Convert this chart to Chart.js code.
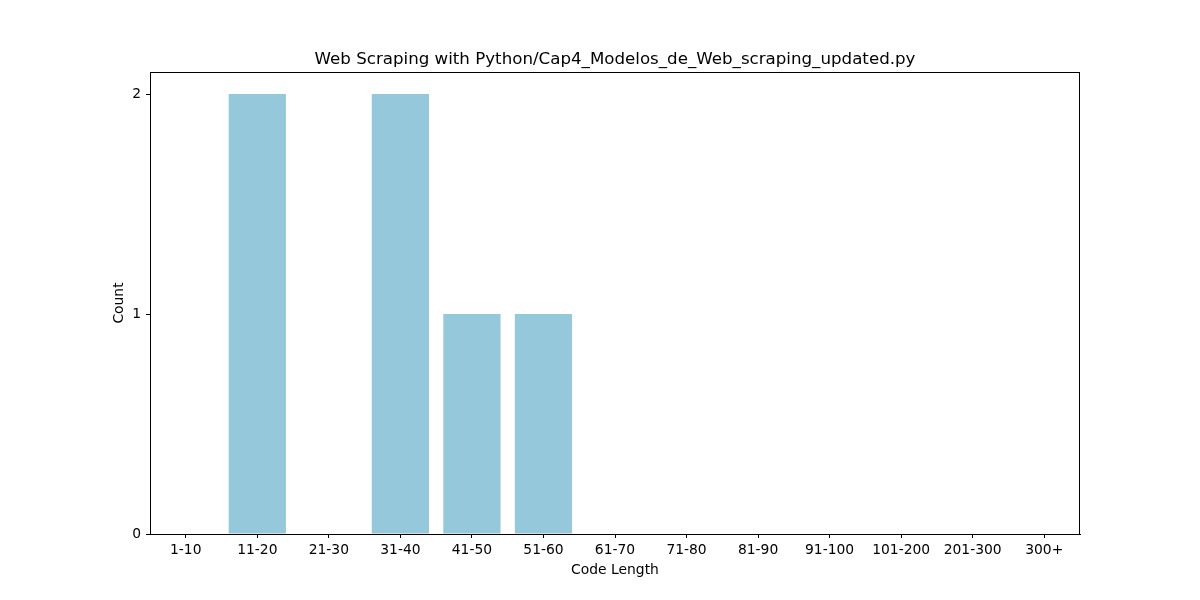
<!DOCTYPE html>
<html>
<head>
<meta charset="utf-8">
<script src="https://cdn.jsdelivr.net/npm/chart.js@4"></script>
<style>
html,body{margin:0;padding:0;background:#fff;}
#wrap{width:1200px;height:600px;}
</style>
</head>
<body>
<div id="wrap"><canvas id="c" width="1200" height="600"></canvas></div>
<script>
const categories = ["1-10","11-20","21-30","31-40","41-50","51-60","61-70","71-80","81-90","91-100","101-200","201-300","300+"];
const counts = [0,2,0,2,1,1,0,0,0,0,0,0,0];
const yTicks = [0,1,2];
const titleText = "Web Scraping with Python/Cap4_Modelos_de_Web_scraping_updated.py";
const xLabel = "Code Length";
const yLabel = "Count";

const FONT = "'DejaVu Sans', sans-serif";
const TICK_SIZE = 13.89;
const TITLE_SIZE = 16.67;

const frame = {
  id: 'frame',
  afterDraw(chart) {
    const {ctx, chartArea: a} = chart;
    ctx.save();
    ctx.strokeStyle = '#000';
    ctx.lineWidth = 1;
    ctx.strokeRect(Math.round(a.left) + 0.5, Math.round(a.top) + 0.5, Math.round(a.right - a.left) - 1, Math.round(a.bottom - a.top));
    ctx.fillStyle = '#000';
    ctx.font = TITLE_SIZE + "px " + FONT;
    ctx.textAlign = 'center';
    ctx.textBaseline = 'middle';
    ctx.fillText(titleText, (a.left + a.right) / 2, 60);
    ctx.font = TICK_SIZE + "px " + FONT;
    ctx.fillText(xLabel, (a.left + a.right) / 2, 570);
    ctx.translate(119, (a.top + a.bottom) / 2);
    ctx.rotate(-Math.PI / 2);
    ctx.fillText(yLabel, 0, 0);
    ctx.restore();
  }
};

new Chart(document.getElementById('c'), {
  type: 'bar',
  data: {
    labels: categories,
    datasets: [{
      data: counts,
      backgroundColor: '#96c8dc',
      borderWidth: 0,
      categoryPercentage: 1.0,
      barPercentage: 0.8
    }]
  },
  options: {
    responsive: false,
    animation: false,
    layout: { padding: { left: 0, right: 120, top: 72, bottom: 0 } },
    plugins: { legend: { display: false }, title: { display: false }, tooltip: { enabled: false } },
    scales: {
      x: {
        offset: true,
        grid: { display: true, drawOnChartArea: false, drawTicks: true, tickLength: 4, color: '#000', offset: false },
        border: { display: true, color: '#000' },
        ticks: { color: '#000', font: { family: FONT, size: TICK_SIZE }, padding: 4, maxRotation: 0, autoSkip: false },
        afterFit(s) { s.height = 66; }
      },
      y: {
        min: 0,
        max: 2.1,
        afterBuildTicks(s) { s.ticks = yTicks.map(v => ({ value: v })); },
        grid: { display: true, drawOnChartArea: false, drawTicks: true, tickLength: 4, color: '#000' },
        border: { display: true, color: '#000' },
        ticks: { color: '#000', font: { family: FONT, size: TICK_SIZE }, padding: 5 },
        afterFit(s) { s.width = 150; }
      }
    }
  },
  plugins: [frame]
});
</script>
</body>
</html>
